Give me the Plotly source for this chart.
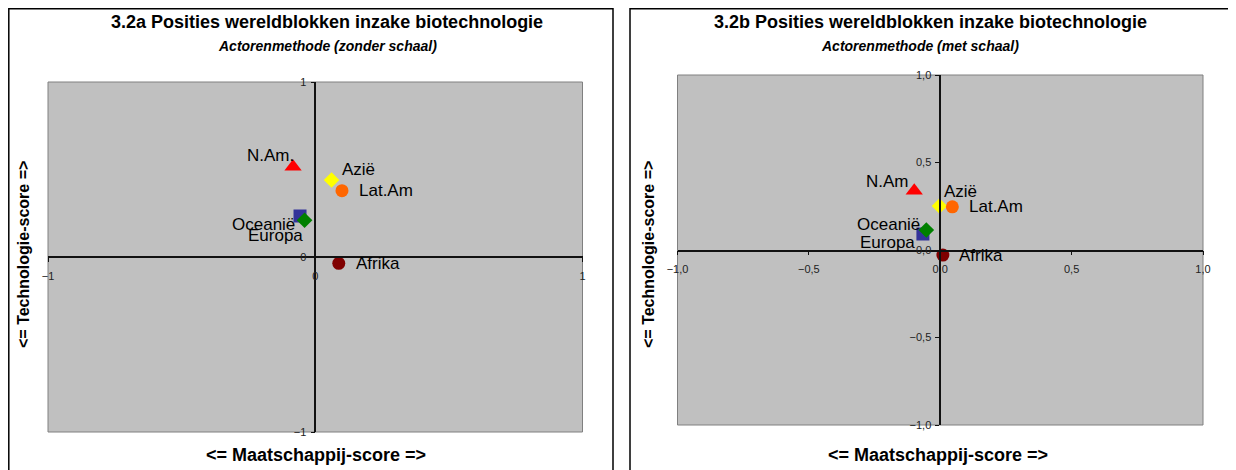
import plotly.graph_objects as go

# page body has an 8px margin: the figure starts at (8, 8) in the window
OFF = 8
W, H = 1236 - OFF, 470 - OFF

# ---- data ----
regions = ["N.Am.", "Azië", "Lat.Am", "Europa", "Oceanië", "Afrika"]
regions_b = ["N.Am", "Azië", "Lat.Am", "Europa", "Oceanië", "Afrika"]
maatschappij_a = [-0.083, 0.061, 0.100, -0.057, -0.040, 0.088]
technologie_a = [0.516, 0.440, 0.379, 0.234, 0.210, -0.036]
maatschappij_b = [-0.099, -0.003, 0.046, -0.066, -0.053, 0.010]
technologie_b = [0.339, 0.251, 0.247, 0.091, 0.114, -0.029]
ticks_a = [-1, 0, 1]
ticks_b = [-1.0, -0.5, 0.0, 0.5, 1.0]

# ---- styles ----
symbols = ["triangle-up", "diamond", "circle", "square", "diamond", "circle"]
colors = ["#FF0000", "#FFFF00", "#FF6600", "#333399", "#008000", "#800000"]
sizes = [15, 12, 13, 13, 12, 13]
label_shift_a = [(-23, 11), (27, 11), (44, 0), (-25, -19), (-41, -4), (39, 0)]
label_shift_b = [(-27, 9), (21, 15), (44, 0), (-35, -8), (-38, 6), (38, 0)]

FONT = "Arial, Liberation Sans, sans-serif"


def px(x):
    return (x - OFF) / W


def py(y):
    return 1 - (y - OFF) / H


fig = go.Figure()

for i, name in enumerate(regions):
    fig.add_trace(go.Scatter(
        x=[maatschappij_a[i]], y=[technologie_a[i]], mode="markers",
        marker=dict(symbol=symbols[i], color=colors[i], size=sizes[i], line=dict(width=0)),
        xaxis="x", yaxis="y", showlegend=False, name=name))
    fig.add_annotation(x=maatschappij_a[i], y=technologie_a[i], xref="x", yref="y",
                       text=name, showarrow=False, xshift=label_shift_a[i][0],
                       yshift=label_shift_a[i][1], font=dict(family=FONT, size=17, color="#000"))

for i, name in enumerate(regions_b):
    fig.add_trace(go.Scatter(
        x=[maatschappij_b[i]], y=[technologie_b[i]], mode="markers",
        marker=dict(symbol=symbols[i], color=colors[i], size=sizes[i], line=dict(width=0)),
        xaxis="x2", yaxis="y2", showlegend=False, name=name))
    fig.add_annotation(x=maatschappij_b[i], y=technologie_b[i], xref="x2", yref="y2",
                       text=name, showarrow=False, xshift=label_shift_b[i][0],
                       yshift=label_shift_b[i][1], font=dict(family=FONT, size=17, color="#000"))

axis_common = dict(range=[-1, 1], showgrid=False, zeroline=False, showline=True,
                   linecolor="#111", linewidth=1.5, ticks="outside", ticklen=4,
                   tickcolor="#111", tickwidth=1, anchor="free", automargin=False,
                   tickfont=dict(family=FONT, size=11, color="#222"), fixedrange=True)

fig.update_layout(
    xaxis=dict(domain=[px(48), px(582.5)], position=py(257), tickvals=ticks_a,
               tickformat="d", ticklabelstandoff=5, **axis_common),
    yaxis=dict(domain=[py(432), py(82)], position=px(315.3), tickvals=ticks_a,
               tickformat="d", ticklabelstandoff=2, **axis_common),
    xaxis2=dict(domain=[px(677.5), px(1203)], position=py(250.5), tickvals=ticks_b,
                tickformat=".1f", ticklabelstandoff=5, **axis_common),
    yaxis2=dict(domain=[py(425), py(75)], position=px(940.2), tickvals=ticks_b,
                tickformat=".1f", ticklabelstandoff=2, **axis_common),
)

fig.update_layout(
    width=W, height=H, margin=dict(l=0, r=0, t=0, b=0),
    paper_bgcolor="white", plot_bgcolor="#C0C0C0", separators=",.",
    font=dict(family=FONT),
)

shapes = [
    # panel borders
    dict(type="rect", xref="paper", yref="paper", x0=px(8.8), x1=px(613), y0=-0.2, y1=py(8.8),
         line=dict(color="#000", width=1.5), fillcolor="rgba(0,0,0,0)", layer="below"),
    dict(type="rect", xref="paper", yref="paper", x0=px(630), x1=px(1233), y0=-0.2, y1=py(8.8),
         line=dict(color="#000", width=1.5), fillcolor="rgba(0,0,0,0)", layer="below"),
    # plot area borders
    dict(type="rect", xref="x domain", yref="y domain", x0=0, x1=1, y0=0, y1=1,
         line=dict(color="#808080", width=1), layer="below"),
    dict(type="rect", xref="x2 domain", yref="y2 domain", x0=0, x1=1, y0=0, y1=1,
         line=dict(color="#808080", width=1), layer="below"),
]
fig.update_layout(shapes=shapes)

texts = [
    ("3.2a Posities wereldblokken inzake biotechnologie", 327, 22, 18, True, False),
    ("Actorenmethode (zonder schaal)", 327, 46, 14, True, True),
    ("3.2b Posities wereldblokken inzake biotechnologie", 930, 22, 18, True, False),
    ("Actorenmethode (met schaal)", 920, 46, 14, True, True),
    ("<= Maatschappij-score =>", 316, 455, 18, True, False),
    ("<= Maatschappij-score =>", 938, 455, 18, True, False),
]
for t, x, y, s, b, it in texts:
    txt = t.replace("<", "&lt;").replace(">", "&gt;")
    if b:
        txt = "<b>" + txt + "</b>"
    if it:
        txt = "<i>" + txt + "</i>"
    fig.add_annotation(x=px(x), y=py(y), xref="paper", yref="paper", text=txt,
                       showarrow=False, xanchor="center", yanchor="middle",
                       font=dict(family=FONT, size=s, color="#000"))

for x, y in [(23, 255), (648, 255)]:
    fig.add_annotation(x=px(x), y=py(y), xref="paper", yref="paper",
                       text="<b>&lt;= Technologie-score =&gt;</b>", textangle=-90,
                       showarrow=False, xanchor="center", yanchor="middle",
                       font=dict(family=FONT, size=16, color="#000"))

fig.write_html("out.html")
